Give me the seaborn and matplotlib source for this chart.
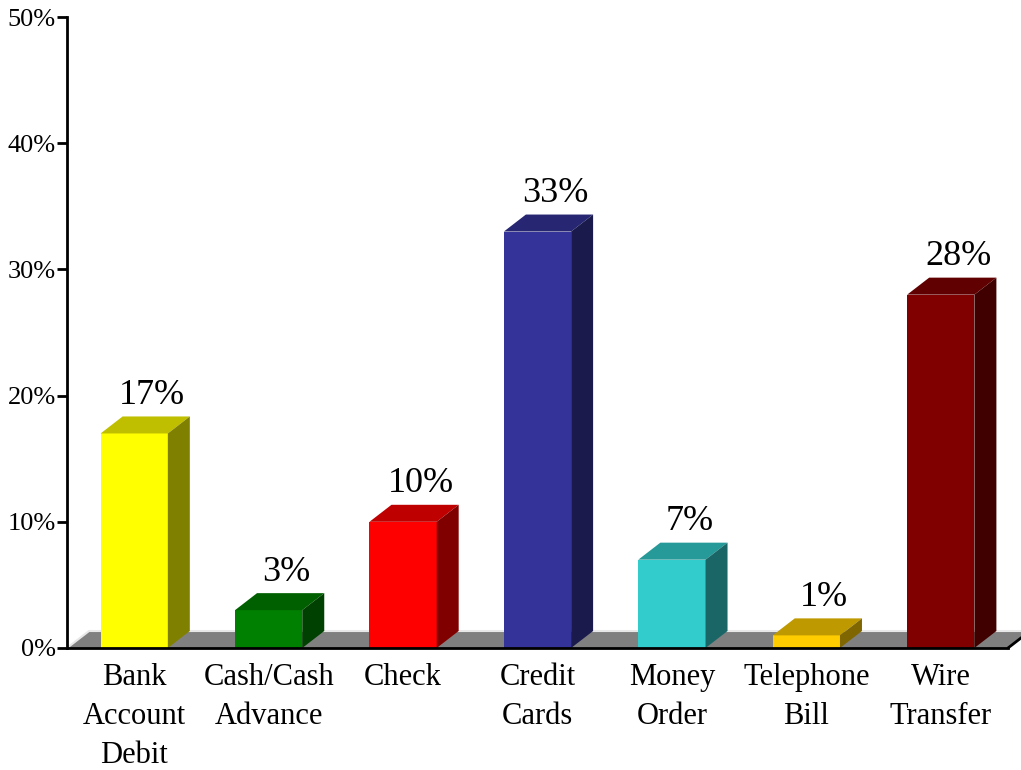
import pandas as pd
import matplotlib
matplotlib.use('Agg')
import matplotlib.pyplot as plt
import seaborn as sns
from matplotlib.patches import Polygon
from matplotlib.colors import to_rgb

# Chart data
categories = ['Bank\nAccount\nDebit', 'Cash/Cash\nAdvance', 'Check', 'Credit\nCards',
              'Money\nOrder', 'Telephone\nBill', 'Wire\nTransfer']
shares = [17, 3, 10, 33, 7, 1, 28]
bar_colors = ['#FFFF00', '#008000', '#FF0000', '#333399', '#33CCCC', '#FFCC00', '#800000']
y_ticks = [0, 10, 20, 30, 40, 50]
y_tick_labels = ['0%', '10%', '20%', '30%', '40%', '50%']

sns.set_style('white')
plt.rcParams['font.family'] = ['Liberation Serif', 'DejaVu Serif']

fig = plt.figure(figsize=(10.21, 7.70), dpi=100)
ax = fig.add_axes([67 / 1021, 122 / 770, (1008 - 67) / 1021, 631 / 770])

df = pd.DataFrame({'method': categories, 'share': shares})
sns.barplot(data=df, x='method', y='share', hue='method', palette=bar_colors,
            width=0.5, saturation=1, legend=False, linewidth=0, ax=ax, zorder=3)

ax.set_xlim(-0.5, len(categories) - 0.5)
ax.set_ylim(0, 50)

# depth of the fake 3D effect, in data units
dx = 22 / (941 / 7)
dy = 17 / (631 / 50)

# floor
x_lo, x_hi = -0.5, len(categories) - 0.5
floor = Polygon([(x_lo, 0), (x_hi, 0), (x_hi + dx, dy), (x_lo + dx, dy)],
                closed=True, facecolor='#808080', edgecolor='none', zorder=1, clip_on=False)
ax.add_patch(floor)
ax.plot([x_lo, x_lo + dx, x_hi + dx], [0, dy, dy], color='#e8e8e8', lw=1.5, zorder=1.5, clip_on=False)
ax.plot([x_hi, x_hi + dx], [0, dy], color='black', lw=2, zorder=1.5, clip_on=False)

# top and side faces of every bar, plus value labels
for p, col, v in zip(ax.patches, bar_colors, shares):
    x0, w, h = p.get_x(), p.get_width(), p.get_height()
    r, g, b = to_rgb(col)
    top = Polygon([(x0, h), (x0 + w, h), (x0 + w + dx, h + dy), (x0 + dx, h + dy)],
                  closed=True, facecolor=(r * 0.75, g * 0.75, b * 0.75), edgecolor='none',
                  zorder=3, clip_on=False)
    side = Polygon([(x0 + w, 0), (x0 + w + dx, dy), (x0 + w + dx, h + dy), (x0 + w, h)],
                   closed=True, facecolor=(r * 0.5, g * 0.5, b * 0.5), edgecolor='none',
                   zorder=3, clip_on=False)
    ax.add_patch(top)
    ax.add_patch(side)
    ax.text(x0 + w / 2 + dx * 0.8, h + dy + 1.0, f'{v}%', ha='center', va='baseline',
            fontsize=26, color='black', zorder=5)

ax.set_yticks(y_ticks)
ax.set_yticklabels(y_tick_labels)
ax.set_xlabel('')
ax.set_ylabel('')

for s in ['top', 'right']:
    ax.spines[s].set_visible(False)
for s in ['left', 'bottom']:
    ax.spines[s].set_color('black')
    ax.spines[s].set_linewidth(2)
    ax.spines[s].set_zorder(4)

ax.tick_params(axis='y', direction='out', length=7, width=2, labelsize=19, pad=1, left=True, colors='black')
ax.tick_params(axis='x', length=0, labelsize=22, pad=11, colors='black')
for t in ax.get_xticklabels():
    t.set_linespacing(1.45)

plt.savefig('out.png', dpi=100)
